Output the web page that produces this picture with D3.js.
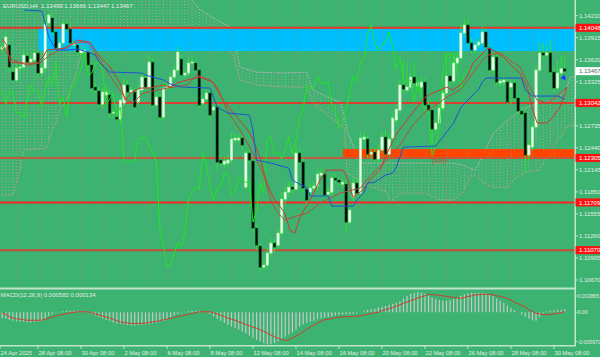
<!DOCTYPE html>
<html><head><meta charset="utf-8">
<script src="https://cdn.jsdelivr.net/npm/d3@7"></script>
<style>html,body{margin:0;padding:0;background:#3cb371;}svg{display:block}</style>
</head><body>
<svg id="c" width="600" height="357"></svg>
<script>
// ---------- DATA ----------
const openP=[1.13763,1.13790,1.13817,1.13455,1.13348,1.13509,1.13522,1.13670,1.13589,1.13616,
1.13710,1.13442,1.13509,1.14112,1.14179,1.13991,1.13777,1.13844,1.14098,1.14031,
1.13817,1.13817,1.13710,1.13723,1.13723,1.13549,1.13254,1.13201,1.13026,1.13147,
1.13147,1.12906,1.12852,1.12825,1.13040,1.13281,1.13187,1.13187,1.13053,1.13214,
1.13375,1.13254,1.13589,1.13013,1.13120,1.12852,1.13241,1.13268,1.13388,1.13482,
1.13629,1.13415,1.13442,1.13576,1.13576,1.13482,1.13040,1.13093,1.13174,1.12946,
1.12986,1.12276,1.12222,1.12236,1.12276,1.12544,1.12544,1.12571,1.11914,1.12370,
1.12263,1.11365,1.11124,1.10842,1.10869,1.11030,1.11164,1.11137,1.11298,1.11753,
1.11847,1.11914,1.11887,1.12370,1.12249,1.11887,1.11847,1.11901,1.11928,1.12075,
1.12088,1.11820,1.11847,1.12035,1.12008,1.11954,1.11954,1.11445,1.11780,1.11968,
1.11834,1.12557,1.12557,1.12356,1.12383,1.12289,1.12410,1.12584,1.12356,1.12571,
1.12812,1.12946,1.13281,1.13214,1.13254,1.13388,1.13268,1.13254,1.13321,1.13013,
1.12946,1.12691,1.12772,1.12973,1.13174,1.13402,1.13335,1.13576,1.13643,1.13978,
1.14085,1.13844,1.13750,1.13817,1.13844,1.13991,1.13777,1.13482,1.13656,1.13308,
1.13321,1.13321,1.13254,1.13308,1.13107,1.12933,1.12906,1.12343,1.12450,1.12718,
1.13482,1.13710,1.13683,1.13710,1.13455,1.13241,1.13442,1.13499];
const highP=[1.13844,1.13991,1.13857,1.13536,1.13549,1.13589,1.13750,1.13710,1.13683,1.13750,
1.13750,1.13562,1.14192,1.14246,1.14232,1.14045,1.13911,1.14152,1.14152,1.14072,
1.13884,1.13857,1.13804,1.13817,1.13777,1.13589,1.13308,1.13254,1.13241,1.13268,
1.13214,1.12973,1.12919,1.13147,1.13375,1.13348,1.13268,1.13241,1.13294,1.13455,
1.13415,1.13683,1.13643,1.13187,1.13160,1.13294,1.13321,1.13455,1.13549,1.13790,
1.13683,1.13482,1.13643,1.13656,1.13616,1.13522,1.13147,1.13227,1.13214,1.13040,
1.13026,1.12330,1.12316,1.12343,1.12651,1.12624,1.12624,1.12624,1.12410,1.12410,
1.12303,1.11405,1.11164,1.10963,1.11097,1.11231,1.11217,1.11365,1.11847,1.11928,
1.11981,1.11968,1.12464,1.12437,1.12303,1.11941,1.11968,1.11995,1.12169,1.12169,
1.12142,1.11914,1.12102,1.12088,1.12062,1.12035,1.12008,1.11673,1.12035,1.12035,
1.12651,1.12651,1.12611,1.12450,1.12437,1.12477,1.12651,1.12678,1.12624,1.12906,
1.13026,1.13348,1.13589,1.13589,1.13482,1.13589,1.13375,1.13402,1.13375,1.13080,
1.12999,1.12839,1.13026,1.13241,1.13710,1.13710,1.13683,1.13723,1.14085,1.14179,
1.14152,1.13911,1.13884,1.13911,1.14058,1.14045,1.13830,1.13710,1.13710,1.13388,
1.13402,1.13375,1.13361,1.13348,1.13160,1.12986,1.12946,1.12544,1.12785,1.13549,
1.13857,1.13844,1.13817,1.13884,1.13509,1.13616,1.13670,1.13666];
const lowP=[1.13723,1.13710,1.13455,1.13321,1.13308,1.13455,1.13482,1.13562,1.13549,1.13576,
1.13375,1.13402,1.13455,1.14058,1.13951,1.13723,1.13723,1.13804,1.13991,1.13804,
1.13750,1.13683,1.13656,1.13683,1.13509,1.13187,1.13160,1.12986,1.12973,1.13107,
1.12839,1.12839,1.12785,1.12772,1.12999,1.13147,1.13147,1.12946,1.13013,1.13174,
1.13214,1.13214,1.12973,1.12973,1.12812,1.12812,1.13201,1.13227,1.13348,1.13442,
1.13375,1.13375,1.13402,1.13536,1.13442,1.12973,1.12999,1.13053,1.12812,1.12892,
1.12142,1.12196,1.12169,1.12196,1.12236,1.12504,1.12504,1.12410,1.11874,1.12236,
1.11311,1.11070,1.10775,1.10802,1.10815,1.10976,1.11043,1.11083,1.11244,1.11700,
1.11794,1.11834,1.11847,1.12196,1.11847,1.11673,1.11794,1.11847,1.11874,1.12021,
1.11767,1.11767,1.11794,1.11968,1.11928,1.11901,1.11311,1.11392,1.11727,1.11780,
1.11780,1.12504,1.12303,1.12289,1.12236,1.12236,1.12370,1.12303,1.12303,1.12517,
1.12772,1.12906,1.13174,1.13160,1.13214,1.13241,1.13214,1.13147,1.12973,1.12906,
1.12464,1.12638,1.12718,1.12933,1.13134,1.13281,1.13294,1.13536,1.13603,1.13924,
1.13790,1.13710,1.13696,1.13777,1.13804,1.13750,1.13428,1.13428,1.13268,1.13254,
1.13268,1.13013,1.13026,1.13053,1.12879,1.12839,1.12115,1.12276,1.12410,1.12678,
1.13442,1.13643,1.13643,1.13415,1.13187,1.13201,1.13402,1.13447];
const closeP=[1.13790,1.13924,1.13522,1.13348,1.13509,1.13522,1.13683,1.13589,1.13629,1.13710,
1.13442,1.13509,1.14098,1.14219,1.13991,1.13777,1.13844,1.14098,1.14031,1.13844,
1.13844,1.13723,1.13750,1.13750,1.13549,1.13241,1.13214,1.13026,1.13187,1.13187,
1.12906,1.12919,1.12825,1.13080,1.13281,1.13187,1.13214,1.12986,1.13227,1.13388,
1.13254,1.13589,1.13013,1.13120,1.12852,1.13241,1.13268,1.13388,1.13482,1.13723,
1.13415,1.13442,1.13576,1.13589,1.13482,1.13013,1.13093,1.13174,1.12879,1.12986,
1.12249,1.12236,1.12263,1.12276,1.12557,1.12571,1.12571,1.12477,1.12370,1.12276,
1.11365,1.11137,1.10842,1.10869,1.11030,1.11164,1.11110,1.11298,1.11753,1.11847,
1.11914,1.11887,1.12370,1.12249,1.11901,1.11740,1.11901,1.11928,1.12088,1.12102,
1.11807,1.11847,1.12035,1.12008,1.11981,1.11981,1.11445,1.11606,1.11968,1.11834,
1.12571,1.12584,1.12356,1.12383,1.12289,1.12410,1.12584,1.12356,1.12557,1.12839,
1.12959,1.13281,1.13227,1.13254,1.13388,1.13308,1.13308,1.13321,1.13013,1.12946,
1.12691,1.12772,1.12973,1.13174,1.13402,1.13335,1.13576,1.13643,1.13978,1.14085,
1.13844,1.13750,1.13817,1.13857,1.13991,1.13790,1.13482,1.13656,1.13321,1.13335,
1.13348,1.13053,1.13308,1.13107,1.12933,1.12892,1.12343,1.12477,1.12718,1.13482,
1.13710,1.13683,1.13710,1.13455,1.13241,1.13442,1.13499,1.13467];

// Kijun-sen (blue) vertices: bar index / price
const kijunIdx=[6,11,12,13,15,18,21,24,26,27,30,39,40,45,47,50,58,59,60,63,69,70,71,75,79,80,81,83,85,86,91,92,98,99,101,102,104,107,109,110,111,112,121,123,124,126,128,130,133,134,135,145,146,148,155,157];
const kijunVal=[1.14286,1.14273,1.14112,1.13924,1.13750,1.13750,1.13763,1.13723,1.13683,1.13589,1.13455,1.13442,1.13415,1.13348,1.13294,1.13254,1.13241,1.13120,1.12986,1.12906,1.12879,1.12678,1.12276,1.12236,1.12182,1.12169,1.12008,1.11954,1.11914,1.11794,1.11794,1.11660,1.11660,1.11740,1.11847,1.11968,1.11981,1.12075,1.12102,1.12182,1.12316,1.12450,1.12464,1.12584,1.12651,1.12772,1.12986,1.13080,1.13227,1.13321,1.13375,1.13375,1.13214,1.13134,1.13134,1.13093];
// Tenkan-sen (red)
const tenkanIdx=[0,1.3,2.2,5,9.7,11.4,12.5,18.1,20.9,24.5,27.3,30.1,32.9,34.3,36.2,38.5,41.2,44.9,46.8,48.8,51.6,55.2,57.2,58.8,61.6,65.5,69.2,71.9,73.9,75.6,78.9,80.3,81.7,83.1,85.9,88.7,90.6,95.1,96.2,97.9,100.7,102.6,105.4,108.2,110.2,113,115.8,118,120.2,122.2,124.1,125.8,127.8,129.7,131.4,134.2,135.6,137,139.8,142.6,144.5,146.5,148.1,149.3,152,153.7,155.7,157.6];
const tenkanVal=[1.13897,1.13817,1.13589,1.13576,1.13576,1.13656,1.13750,1.13777,1.13884,1.13857,1.13656,1.13522,1.13308,1.13080,1.13187,1.13241,1.13241,1.13281,1.13254,1.13308,1.13348,1.13388,1.13348,1.13321,1.13080,1.12852,1.12638,1.12316,1.11968,1.11780,1.11566,1.11338,1.11298,1.11512,1.11740,1.12008,1.12142,1.12142,1.12048,1.11780,1.11874,1.12008,1.12142,1.12450,1.12638,1.12812,1.12986,1.13120,1.13174,1.13214,1.13254,1.13214,1.13281,1.13388,1.13576,1.13710,1.13777,1.13750,1.13656,1.13522,1.13442,1.13254,1.12946,1.12772,1.12772,1.12852,1.12986,1.13254];
// second red average line
const maIdx=[0,3,7,10.5,13.3,16.1,18.9,21.7,24,27.3,30.9,34.8,36.5,39.3,46,51.6,54.4,58,60,62.7,66.4,70,72.8,75.3,77,78.9,81.2,85.1,88.7,94.3,99.9,103.5,107.4,111,114.6,118,120.2,124.1,127.8,130.6,133.4,135.6,139,141.7,144.5,147.3,149.3,152,154.8,157.6];
const maVal=[1.13790,1.13616,1.13549,1.13576,1.13683,1.13750,1.13817,1.13857,1.13844,1.13616,1.13348,1.13080,1.13040,1.13174,1.13241,1.13281,1.13415,1.13348,1.13254,1.12946,1.12678,1.12370,1.12102,1.11700,1.11566,1.11472,1.11512,1.11566,1.11700,1.11834,1.11901,1.12102,1.12276,1.12477,1.12745,1.12919,1.12986,1.13120,1.13214,1.13388,1.13576,1.13683,1.13710,1.13616,1.13522,1.13254,1.13080,1.13040,1.13120,1.13254];
// Kumo (cloud) boundaries
const cloudIdx=[0,3,5,6,12.5,14,15.3,16,18,21,22,38.5,41,52,55,59,63.6,64.4,66.4,71,79,85,86.7,91.5,94.3,95.5,96.2,98.5,100.7,107.4,108.2,111,118,122.2,125.8,128.6,130.5,132,134.2,135.3,137,139,141,143.7,146.5,150,152,153.7,156.5,157.6,158.5,161];
const cloudTop=[1.14487,1.14487,1.14487,1.14487,1.14487,1.14487,1.14487,1.14487,1.14487,1.14487,1.14487,1.14487,1.14487,1.14487,1.14299,1.14179,1.14058,1.13978,1.13522,1.13455,1.13442,1.13455,1.13214,1.13107,1.13053,1.12879,1.12678,1.12410,1.12236,1.12236,1.12236,1.12236,1.12236,1.12236,1.12236,1.12209,1.12169,1.12142,1.12343,1.12450,1.12638,1.12718,1.12812,1.12906,1.12986,1.13040,1.13053,1.13080,1.13174,1.13241,1.13388,1.13388];
const cloudBot=[1.11807,1.11807,1.12142,1.12410,1.12437,1.12678,1.12812,1.12946,1.13080,1.13482,1.13710,1.13857,1.13777,1.13750,1.13750,1.13750,1.13737,1.13683,1.13348,1.13281,1.13254,1.13254,1.13040,1.12852,1.12745,1.12705,1.12115,1.12035,1.11954,1.11847,1.11700,1.11834,1.11834,1.11740,1.11740,1.11834,1.12035,1.12075,1.11981,1.11941,1.11914,1.11914,1.11914,1.12048,1.12115,1.12142,1.12316,1.12450,1.12638,1.12718,1.12732,1.12745];
// MACD
const macdMain=[-0.0011,-0.0012,-0.0014,-0.0016,-0.0017,-0.0018,-0.0018,-0.0019,-0.0019,-0.0018,
-0.0018,-0.0017,-0.0013,-0.0007,-0.0003,-0.0001,0.0001,0.0002,0.0003,0.0003,
0.0003,0.0003,0.0002,0.0002,0.0001,-0.0003,-0.0006,-0.0009,-0.0012,-0.0014,
-0.0016,-0.0019,-0.0021,-0.0022,-0.0023,-0.0024,-0.0025,-0.0025,-0.0024,-0.0024,
-0.0023,-0.0022,-0.0021,-0.0020,-0.0018,-0.0016,-0.0013,-0.0009,-0.0006,-0.0003,
-0.0001,0.0001,0.0002,0.0003,0.0003,0.0003,0.0002,0.0001,-0.0003,-0.0008,
-0.0012,-0.0016,-0.0020,-0.0024,-0.0027,-0.0030,-0.0033,-0.0036,-0.0040,-0.0044,
-0.0048,-0.0052,-0.0055,-0.0058,-0.0060,-0.0060,-0.0058,-0.0055,-0.0050,-0.0046,
-0.0042,-0.0038,-0.0033,-0.0027,-0.0023,-0.0020,-0.0018,-0.0016,-0.0013,-0.0011,
-0.0010,-0.0009,-0.0008,-0.0006,-0.0005,-0.0004,-0.0004,-0.0004,-0.0003,-0.0002,
0.0000,0.0003,0.0005,0.0006,0.0007,0.0009,0.0010,0.0012,0.0014,0.0016,
0.0018,0.0021,0.0026,0.0031,0.0035,0.0037,0.0038,0.0037,0.0035,0.0031,
0.0028,0.0025,0.0023,0.0022,0.0022,0.0023,0.0025,0.0027,0.0031,0.0034,
0.0036,0.0037,0.0037,0.0037,0.0037,0.0036,0.0033,0.0030,0.0026,0.0022,
0.0018,0.0013,0.0008,0.0004,0.0000,-0.0004,-0.0008,-0.0012,-0.0015,-0.0016,
-0.0009,-0.0002,0.0002,0.0003,0.0004,0.0005,0.0005,0.000582];
const macdSignal=[-0.0001,-0.0004,-0.0008,-0.0011,-0.0012,-0.0013,-0.0014,-0.0015,-0.0015,-0.0015,
-0.0015,-0.0015,-0.0013,-0.0011,-0.0009,-0.0007,-0.0005,-0.0004,-0.0002,-0.0001,
0.0000,0.0001,0.0001,0.0001,0.0001,-0.0001,-0.0003,-0.0005,-0.0007,-0.0009,
-0.0011,-0.0013,-0.0016,-0.0018,-0.0020,-0.0020,-0.0021,-0.0021,-0.0021,-0.0021,
-0.0020,-0.0019,-0.0018,-0.0017,-0.0016,-0.0014,-0.0013,-0.0011,-0.0010,-0.0008,
-0.0007,-0.0005,-0.0004,-0.0002,-0.0001,0.0001,0.0001,0.0001,0.0001,-0.0001,
-0.0003,-0.0006,-0.0008,-0.0011,-0.0013,-0.0015,-0.0018,-0.0020,-0.0023,-0.0025,
-0.0028,-0.0030,-0.0033,-0.0036,-0.0039,-0.0043,-0.0046,-0.0049,-0.0051,-0.0053,
-0.0052,-0.0048,-0.0045,-0.0041,-0.0037,-0.0032,-0.0028,-0.0024,-0.0020,-0.0017,
-0.0014,-0.0013,-0.0012,-0.0010,-0.0009,-0.0009,-0.0008,-0.0008,-0.0008,-0.0007,
-0.0007,-0.0005,-0.0004,-0.0002,-0.0001,0.0000,0.0003,0.0005,0.0007,0.0009,
0.0012,0.0014,0.0017,0.0019,0.0022,0.0024,0.0027,0.0029,0.0031,0.0034,
0.0033,0.0033,0.0032,0.0031,0.0030,0.0029,0.0028,0.0027,0.0026,0.0028,
0.0030,0.0031,0.0033,0.0033,0.0034,0.0034,0.0034,0.0033,0.0031,0.0030,
0.0028,0.0026,0.0023,0.0019,0.0016,0.0013,0.0010,0.0005,0.0002,-0.0002,
-0.0003,-0.0004,-0.0005,-0.0004,-0.0003,-0.0002,-0.0001,0.000134];

const priceTicks=[1.14210,1.13915,1.13620,1.13325,1.13030,1.12735,1.12440,1.12145,1.11850,1.11555,1.11260,1.10965,1.10670];
const levelVals=[1.14048,1.13042,1.12305,1.11709,1.11070];
const levelColors=["#e8352c","#d9402f","#c25a3c","#ff2424","#c84a3a"];
const macdTicks=[0.003865,0,-0.005970];
const macdTickLabels=["0.003865","0.00","-0.005970"];
const timeIdx=[-0.6,10,22,34,46,58,70,82,94,106,118,130,142,154];
const timeLabels=["24 Apr 2025","28 Apr 08:00","30 Apr 08:00","2 May 08:00","6 May 08:00","8 May 08:00","12 May 08:00","14 May 08:00","16 May 08:00","20 May 08:00","22 May 08:00","26 May 08:00","28 May 08:00","30 May 08:00"];
const gridIdx=d3.range(4,160,6);
const cyanZone={from:10,top:1.14031,bottom:1.13737};
const orangeZone={from:95.1,top:1.12424,bottom:1.12305};
const title="EURUSD,H4  1.13499 1.13666 1.13447 1.13467";
const macdTitle="MACD(12,26,9) 0.000582 0.000134";
const lastPrice=1.13467;

// ---------- SCALES ----------
const W=600,H=357, axisX=575;
const xs=d3.scaleLinear().domain([0,157]).range([2.2,564.7]);
const ys=d3.scaleLinear().domain([1.10670,1.14210]).range([280,15.7]);
const ym=d3.scaleLinear().domain([-0.00597,0.0042]).range([344,290]);
const FONT="'Liberation Sans', Arial, sans-serif";
const TXT="#e4ece6";

const svg=d3.select("#c");
svg.append("rect").attr("width",W).attr("height",H).attr("fill","#3cb371");
const defs=svg.append("defs");
defs.append("clipPath").attr("id","mainClip").append("rect").attr("x",0).attr("y",0).attr("width",axisX).attr("height",287);
defs.append("clipPath").attr("id","macdClip").append("rect").attr("x",0).attr("y",290).attr("width",axisX).attr("height",55);

const main=svg.append("g").attr("clip-path","url(#mainClip)");

// cloud
const topAt=d3.scaleLinear().domain(cloudIdx).range(cloudTop);
const botAt=d3.scaleLinear().domain(cloudIdx).range(cloudBot);
const cloudBars=d3.range(0,161);
main.append("g").attr("opacity",0.8).selectAll("line").data(cloudBars).join("line")
 .attr("x1",d=>xs(d)).attr("x2",d=>xs(d))
 .attr("y1",d=>ys(topAt(d))).attr("y2",d=>ys(botAt(d)))
 .attr("stroke",d=>d%2?"#bdb3bd":"#cf9f74").attr("stroke-width",1)
 .attr("stroke-dasharray","1,2");
main.append("path").attr("d",d3.line().x((d,i)=>xs(cloudIdx[i])).y(d=>ys(d))(cloudTop))
 .attr("fill","none").attr("stroke","#c4b4bc").attr("stroke-width",1).attr("stroke-dasharray","1.5,1.5");
main.append("path").attr("d",d3.line().x((d,i)=>xs(cloudIdx[i])).y(d=>ys(d))(cloudBot))
 .attr("fill","none").attr("stroke","#cca27e").attr("stroke-width",1).attr("stroke-dasharray","1.5,1.5");

// zones
main.append("rect").attr("x",xs(cyanZone.from)).attr("y",ys(cyanZone.top))
 .attr("width",axisX-xs(cyanZone.from)).attr("height",ys(cyanZone.bottom)-ys(cyanZone.top)).attr("fill","#00bfff");
main.append("rect").attr("x",xs(orangeZone.from)).attr("y",ys(orangeZone.top))
 .attr("width",axisX-xs(orangeZone.from)).attr("height",ys(orangeZone.bottom)-ys(orangeZone.top)).attr("fill","#ff4500");

// vertical grid
main.append("g").selectAll("line").data(gridIdx).join("line")
 .attr("x1",d=>Math.round(xs(d))+0.5).attr("x2",d=>Math.round(xs(d))+0.5)
 .attr("y1",0).attr("y2",287).attr("stroke","#7f8f86").attr("stroke-width",1).attr("stroke-dasharray","1,2");

// levels
main.append("g").selectAll("line").data(levelVals).join("line")
 .attr("x1",0).attr("x2",axisX).attr("y1",d=>ys(d)).attr("y2",d=>ys(d))
 .attr("stroke",(d,i)=>levelColors[i]).attr("stroke-width",2);
main.append("text").attr("x",432).attr("y",ys(1.12305)+5.5).text("[6/8]P")
 .attr("font-family",FONT).attr("font-size",6.5).attr("fill","#b8553a");

// candles
const bars=d3.range(openP.length).map(i=>({i,o:openP[i],h:highP[i],l:lowP[i],c:closeP[i]}));
main.append("g").selectAll("line").data(bars).join("line")
 .attr("x1",d=>xs(d.i)).attr("x2",d=>xs(d.i)).attr("y1",d=>ys(d.h)).attr("y2",d=>ys(d.l))
 .attr("stroke","#33e033").attr("stroke-width",1);
main.append("g").selectAll("rect").data(bars).join("rect")
 .attr("x",d=>xs(d.i)-1.2).attr("width",2.4)
 .attr("y",d=>ys(Math.max(d.o,d.c))).attr("height",d=>Math.max(1,Math.abs(ys(d.o)-ys(d.c))))
 .attr("fill",d=>d.c>=d.o?"#f2fff2":"#000000")
 .attr("stroke",d=>d.c>=d.o?"#9cf59c":"#0b5a1e").attr("stroke-width",0.6);

// indicator lines
const chikou=bars.filter(d=>d.i>=26).map(d=>[d.i-26,d.c]);
main.append("path").attr("d",d3.line().x(d=>xs(d[0])).y(d=>ys(d[1]))(chikou))
 .attr("fill","none").attr("stroke","#22e622").attr("stroke-width",1);
const lineOf=(idx,val)=>d3.line().x((d,i)=>xs(idx[i])).y(d=>ys(d))(val);
main.append("path").attr("d",lineOf(maIdx,maVal)).attr("fill","none").attr("stroke","#b4503c").attr("stroke-width",1);
main.append("path").attr("d",lineOf(tenkanIdx,tenkanVal)).attr("fill","none").attr("stroke","#cf3a30").attr("stroke-width",1);
main.append("path").attr("d",lineOf(kijunIdx,kijunVal)).attr("fill","none").attr("stroke","#2152d4").attr("stroke-width",1);

// small arrow
main.append("path").attr("d",d3.symbol(d3.symbolTriangle,14)())
 .attr("transform",`translate(${xs(157)-1},${ys(1.13380)}) rotate(20)`).attr("fill","#1a3cff");

// title
svg.append("text").attr("x",3).attr("y",7.5).text(title).attr("font-family",FONT).attr("font-size",6).attr("fill",TXT).attr("xml:space","preserve");

// axes frame
svg.append("rect").attr("x",axisX-0.5).attr("y",0).attr("width",1.5).attr("height",346).attr("fill","#bfe6c9");
svg.append("rect").attr("x",0).attr("y",287.5).attr("width",axisX).attr("height",2).attr("fill","#bfe6c9");
svg.append("rect").attr("x",0).attr("y",345).attr("width",axisX+1).attr("height",1.5).attr("fill","#bfe6c9");

// price axis labels
const pa=svg.append("g");
pa.selectAll("line").data(priceTicks).join("line").attr("x1",axisX+1).attr("x2",axisX+3)
 .attr("y1",d=>ys(d)).attr("y2",d=>ys(d)).attr("stroke",TXT).attr("stroke-width",0.8);
pa.selectAll("text").data(priceTicks).join("text").attr("x",axisX+4).attr("y",d=>ys(d)+2.2)
 .text(d=>d.toFixed(5)).attr("font-family",FONT).attr("font-size",6).attr("fill",TXT);
// level boxes
const lb=svg.append("g");
lb.selectAll("rect").data(levelVals).join("rect").attr("x",axisX+0.5).attr("y",d=>ys(d)-4)
 .attr("width",W-axisX).attr("height",8).attr("fill","#ff1010");
lb.selectAll("text").data(levelVals).join("text").attr("x",axisX+4).attr("y",d=>ys(d)+2.2)
 .text(d=>d.toFixed(5)).attr("font-family",FONT).attr("font-size",6).attr("fill","#ffffff");
svg.append("rect").attr("x",axisX+0.5).attr("y",ys(lastPrice)-4).attr("width",W-axisX).attr("height",8).attr("fill","#ffffff");
svg.append("text").attr("x",axisX+4).attr("y",ys(lastPrice)+2.2).text(lastPrice.toFixed(5))
 .attr("font-family",FONT).attr("font-size",6).attr("fill","#4a6a55");

// MACD
const mg=svg.append("g").attr("clip-path","url(#macdClip)");
mg.selectAll("line").data(macdMain).join("line")
 .attr("x1",(d,i)=>xs(i)).attr("x2",(d,i)=>xs(i)).attr("y1",ym(0)).attr("y2",d=>ym(d))
 .attr("stroke","#c8c8c8").attr("stroke-width",1.2);
mg.append("path").attr("d",d3.line().x((d,i)=>xs(i)).y(d=>ym(d))(macdSignal))
 .attr("fill","none").attr("stroke","#d23c2c").attr("stroke-width",1);
svg.append("text").attr("x",0.5).attr("y",297).text(macdTitle).attr("font-family",FONT).attr("font-size",6).attr("fill",TXT);
const macdLabelY=v=>Math.min(341.5,Math.max(296,ym(v)));
svg.append("g").selectAll("text").data(macdTicks).join("text").attr("x",axisX+2.5).attr("y",d=>macdLabelY(d)+2)
 .text((d,i)=>macdTickLabels[i]).attr("font-family",FONT).attr("font-size",5.2).attr("fill",TXT);
svg.append("g").selectAll("line").data(macdTicks).join("line").attr("x1",axisX+1).attr("x2",axisX+2.3)
 .attr("y1",d=>macdLabelY(d)).attr("y2",d=>macdLabelY(d)).attr("stroke",TXT).attr("stroke-width",0.8);

// time axis
const ta=svg.append("g");
ta.selectAll("line").data(timeIdx).join("line").attr("x1",d=>xs(d)).attr("x2",d=>xs(d))
 .attr("y1",346).attr("y2",349).attr("stroke",TXT).attr("stroke-width",0.8);
ta.selectAll("text").data(timeIdx).join("text").attr("x",d=>xs(d)+0.5).attr("y",354.5)
 .text((d,i)=>timeLabels[i]).attr("font-family",FONT).attr("font-size",5.8).attr("fill",TXT);
</script>
</body></html>
